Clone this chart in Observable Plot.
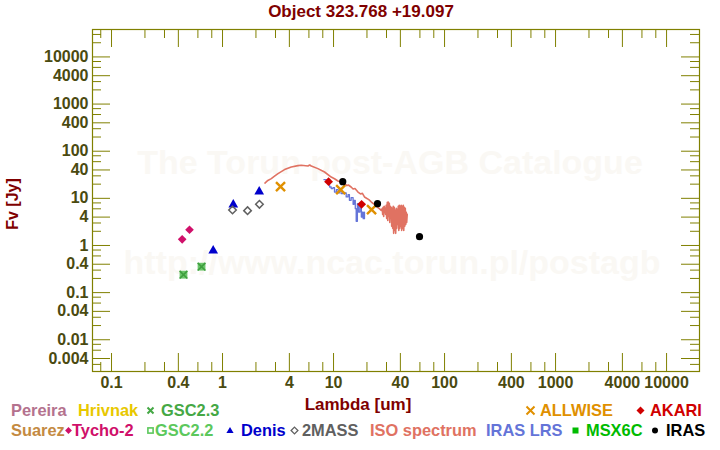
<!DOCTYPE html>
<html><head><meta charset="utf-8">
<script src="https://cdn.jsdelivr.net/npm/d3@7"></script>
<script src="https://cdn.jsdelivr.net/npm/@observablehq/plot@0.6"></script>
<style>body{margin:0;background:#fff;} #chart{position:relative;width:720px;height:450px;}</style>
</head><body><div id="chart"></div>
<script>
// ---------- data ----------
const title = "Object 323.768 +19.097";
const xLabel = "Lambda [um]";
const yLabel = "Fv [Jy]";
const watermark1 = "The Torun post-AGB Catalogue";
const watermark2 = "http://www.ncac.torun.pl/postagb";

const xMajor = [0.1, 0.4, 1, 4, 10, 40, 100, 400, 1000, 4000, 10000];
const xMinor = [0.08, 0.2, 0.3, 0.6, 0.8, 2, 3, 6, 8, 20, 30, 60, 80, 200, 300, 600, 800, 2000, 3000, 6000, 8000];
const yMajor = [0.004, 0.01, 0.04, 0.1, 0.4, 1, 4, 10, 40, 100, 400, 1000, 4000, 10000];
const yMinor = [0.003, 0.006, 0.008, 0.02, 0.03, 0.06, 0.08, 0.2, 0.3, 0.6, 0.8, 2, 3, 6, 8, 20, 30, 60, 80, 200, 300, 600, 800, 2000, 3000, 6000, 8000, 20000, 30000];

const tycho2 = [[0.433, 1.35], [0.504, 2.16]];
const gsc23 = [[0.445, 0.240], [0.647, 0.355]];
const denis = [[0.824, 0.776], [1.25, 7.35], [2.14, 13.9]];
const twoMass = [[1.23, 5.65], [1.68, 5.48], [2.15, 7.46]];
const allwise = [[3.33, 17.7], [11.6, 15.3], [22.0, 5.75]];
const akari = [[9.02, 22.6], [17.9, 7.46]];
const iras = [[12.1, 22.6], [24.9, 7.72], [59.5, 1.54]];

const isoSpectrum = [
  [2.41, 21.1], [2.56, 24.0], [2.75, 26.2], [2.94, 29.5], [3.16, 33.4], [3.62, 40.7], [4.16, 46.2],
  [4.78, 49.5], [5.12, 50.2], [5.88, 48.5], [6.1, 50.9], [6.3, 48.5], [7.23, 42.7], [8.3, 36.2],
  [9.53, 28.3], [10.2, 26.0], [10.96, 23.3], [11.5, 22.6], [12.0, 21.2], [12.56, 20.5], [13.2, 18.6], [13.6, 19.2],
  [14.4, 17.4], [15.0, 15.8], [15.6, 16.2], [16.6, 13.6], [17.5, 12.4], [18.2, 12.8], [19.0, 10.7],
  [20.0, 9.9], [20.8, 9.4], [21.9, 8.35], [23.0, 7.6], [24.0, 7.0], [25.1, 6.35], [26.0, 6.0], [26.9, 5.56],
  [27.5, 6.13], [27.7, 4.57], [28.0, 6.44], [28.3, 4.15], [28.6, 6.76], [28.9, 5.05], [29.2, 6.13], [29.5, 4.57],
  [29.8, 7.10], [30.1, 3.76], [30.5, 8.22], [30.8, 3.41], [31.1, 8.35], [31.4, 4.15], [31.8, 7.83], [32.1, 3.09],
  [32.4, 6.76], [32.8, 3.76], [33.1, 6.44], [33.4, 2.55], [33.8, 6.13], [34.1, 2.31], [34.5, 6.76], [34.8, 1.81],
  [35.2, 6.44], [35.6, 2.09], [36.0, 5.56], [36.3, 1.81], [36.7, 6.13], [37.1, 2.31], [37.5, 5.84], [37.9, 2.80],
  [38.3, 6.76], [38.7, 2.09], [39.1, 7.10], [39.5, 2.31], [39.9, 6.76], [40.3, 2.55], [40.7, 7.10], [41.1, 2.09],
  [41.6, 6.76], [42.0, 2.31], [42.5, 7.10], [42.9, 2.09], [43.4, 6.44], [43.8, 2.55], [44.3, 6.13], [44.7, 2.80],
  [45.2, 5.05], [45.6, 3.09], [46.1, 4.57]
];

const irasLrs = [
  [8.20, 24.9], [8.60, 22.2], [8.91, 21.5], [9.21, 17.4], [9.53, 16.1], [9.88, 16.9], [10.2, 13.6], [10.6, 15.3],
  [11.0, 13.0], [11.3, 14.3], [11.7, 12.6], [12.6, 13.0], [13.0, 10.7], [13.5, 12.0], [13.9, 9.07], [14.4, 10.4],
  [15.0, 7.46], [15.3, 9.07], [15.7, 6.04], [16.0, 3.25], [16.4, 7.72], [16.8, 5.12], [17.3, 6.86], [17.8, 4.01],
  [18.1, 5.12], [18.5, 3.71], [19.0, 5.12]
];

// legend entries: label, colour, text x, row, marker kind, marker x
const legendLabels = ["Pereira", "Hrivnak", "GSC2.3", "ALLWISE", "AKARI", "Suarez", "Tycho-2", "GSC2.2", "Denis", "2MASS", "ISO spectrum", "IRAS LRS", "MSX6C", "IRAS"];
const legendColors = ["#b4728e", "#e8c800", "#45a845", "#e09000", "#d00000", "#c48a42", "#d0106a", "#5cc85c", "#0000cc", "#606060", "#e07262", "#6474d8", "#00bb00", "#000000"];
const legendTextX = [11, 78, 161, 540, 650, 11, 72, 155, 241, 302, 370, 486, 586, 666];
const legendRow = [0, 0, 0, 0, 0, 1, 1, 1, 1, 1, 1, 1, 1, 1];
const legendMarker = [null, null, "times", "times", "diamond", null, "diamond", "square-open", "triangle", "diamond-open", null, null, "square", "circle"];
const legendMarkerX = [0, 0, 150.5, 530.5, 640.5, 0, 68.5, 150.5, 230, 294.5, 0, 0, 575.5, 655];

// ---------- layout ----------
const W = 720, H = 450, mL = 92, mR = 21, mT = 29, mB = 79;
const fw = W - mL - mR, fh = H - mT - mB;
const olive = "#808000";
const tickText = "#4a4a10";
const darkRed = "#800000";
const font = "'Liberation Sans', Arial, Helvetica, sans-serif";

const pts = (arr) => arr.map(([x, y]) => ({x, y}));

const plot = Plot.plot({
  width: W, height: H,
  marginLeft: mL, marginRight: mR, marginTop: mT, marginBottom: mB,
  style: {fontFamily: font, background: "white", overflow: "visible"},
  x: {type: "log", domain: [0.0674, 19800], axis: null},
  y: {type: "log", domain: [0.00212, 38200], axis: null},
  marks: [
    Plot.text([watermark1], {text: d => d, frameAnchor: "top", dx: -6, dy: 133.5, fontSize: 34, fontWeight: "bold", fill: "#faf8f4", lineAnchor: "middle"}),
    Plot.text([watermark2], {text: d => d, frameAnchor: "top", dx: -4, dy: 233.3, fontSize: 34, fontWeight: "bold", fill: "#faf8f4", lineAnchor: "middle"}),
    // inward ticks
    Plot.ruleX(xMajor, {x: d => d, stroke: olive, insetTop: fh - 18}),
    Plot.ruleX(xMinor, {x: d => d, stroke: olive, insetTop: fh - 9}),
    Plot.ruleX(xMajor, {x: d => d, stroke: olive, insetBottom: fh - 18}),
    Plot.ruleX(xMinor, {x: d => d, stroke: olive, insetBottom: fh - 9}),
    Plot.ruleY(yMajor, {y: d => d, stroke: olive, insetRight: fw - 18}),
    Plot.ruleY(yMinor, {y: d => d, stroke: olive, insetRight: fw - 9}),
    Plot.ruleY(yMajor, {y: d => d, stroke: olive, insetLeft: fw - 18}),
    Plot.ruleY(yMinor, {y: d => d, stroke: olive, insetLeft: fw - 9}),
    Plot.frame({stroke: olive, strokeWidth: 1.2}),
    // tick labels placed through the scales
    Plot.text(xMajor, {x: d => d, text: d => String(d), frameAnchor: "bottom", dy: 5, lineAnchor: "top", fontSize: 16, fontWeight: "bold", fill: tickText}),
    Plot.text(yMajor, {y: d => d, text: d => String(d), frameAnchor: "left", dx: -4, textAnchor: "end", lineAnchor: "middle", fontSize: 16, fontWeight: "bold", fill: tickText}),
    // spectra
    Plot.line(pts(isoSpectrum), {x: "x", y: "y", stroke: "#e07262", strokeWidth: 1.6}),
    Plot.line(pts(irasLrs), {x: "x", y: "y", stroke: "#6474d8", strokeWidth: 1.3, curve: "step-after"}),
    // photometry
    Plot.dot(pts(gsc23), {x: "x", y: "y", symbol: "square", r: 4.4, fill: "#6cc66c"}),
    Plot.dot(pts(gsc23), {x: "x", y: "y", symbol: "times", r: 3.6, stroke: "#3f9f3f", strokeWidth: 1.6}),
    Plot.dot(pts(tycho2), {x: "x", y: "y", symbol: "diamond2", r: 3.9, fill: "#d0106a"}),
    Plot.dot(pts(denis), {x: "x", y: "y", symbol: "triangle", r: 3.6, fill: "#0000cc"}),
    Plot.dot(pts(twoMass), {x: "x", y: "y", symbol: "diamond2", r: 3.4, fill: "none", stroke: "#606060", strokeWidth: 1.5}),
    Plot.dot(pts(allwise), {x: "x", y: "y", symbol: "times", r: 4.2, stroke: "#e09000", strokeWidth: 2.4}),
    Plot.dot(pts(akari), {x: "x", y: "y", symbol: "diamond2", r: 4, fill: "#d00000"}),
    Plot.dot(pts(iras), {x: "x", y: "y", symbol: "circle", r: 3.6, fill: "#000000"})
  ]
});
document.getElementById("chart").appendChild(plot);

// ---------- title, axis labels, legend ----------
const svg = d3.select(plot);
const g = svg.append("g").attr("font-family", font).attr("font-weight", "bold").attr("text-anchor", "start");
g.append("text").attr("x", 361).attr("y", 17).attr("text-anchor", "middle").attr("font-size", 17).attr("fill", darkRed).text(title);
g.append("text").attr("x", 358).attr("y", 410).attr("text-anchor", "middle").attr("font-size", 17).attr("fill", darkRed).text(xLabel);
g.append("text").attr("transform", "translate(12,204) rotate(-90)").attr("y", 5.8).attr("text-anchor", "middle").attr("font-size", 16).attr("fill", darkRed).text(yLabel);

const rowY = [410.5, 430.5];
legendLabels.forEach((lab, i) => {
  const cy = rowY[legendRow[i]];
  g.append("text").attr("x", legendTextX[i]).attr("y", cy + 5.8).attr("text-anchor", "start").attr("font-size", 16.4).attr("fill", legendColors[i]).text(lab);
  const m = legendMarker[i], cx = legendMarkerX[i], c = legendColors[i];
  if (!m) return;
  let h;
  if (m === "times") {
    h = i === 3 ? 4 : 3;
    g.append("path").attr("d", `M${cx - h},${cy - h}L${cx + h},${cy + h}M${cx - h},${cy + h}L${cx + h},${cy - h}`).attr("stroke", c).attr("stroke-width", 2).attr("fill", "none");
  } else if (m === "diamond") {
    h = i === 4 ? 4 : 3.4;
    g.append("path").attr("d", `M${cx},${cy - h}L${cx + h},${cy}L${cx},${cy + h}L${cx - h},${cy}Z`).attr("fill", c);
  } else if (m === "diamond-open") {
    h = 3.4;
    g.append("path").attr("d", `M${cx},${cy - h}L${cx + h},${cy}L${cx},${cy + h}L${cx - h},${cy}Z`).attr("fill", "none").attr("stroke", c).attr("stroke-width", 1.3);
  } else if (m === "square-open") {
    h = 2.6;
    g.append("rect").attr("x", cx - h).attr("y", cy - h).attr("width", 2 * h).attr("height", 2 * h).attr("fill", "none").attr("stroke", c).attr("stroke-width", 1.6);
  } else if (m === "square") {
    h = 3;
    g.append("rect").attr("x", cx - h).attr("y", cy - h).attr("width", 2 * h).attr("height", 2 * h).attr("fill", c);
  } else if (m === "triangle") {
    g.append("path").attr("d", `M${cx},${cy - 3.6}L${cx + 3.6},${cy + 2.6}L${cx - 3.6},${cy + 2.6}Z`).attr("fill", c);
  } else if (m === "circle") {
    g.append("circle").attr("cx", cx).attr("cy", cy).attr("r", 3).attr("fill", c);
  }
});
</script></body></html>
